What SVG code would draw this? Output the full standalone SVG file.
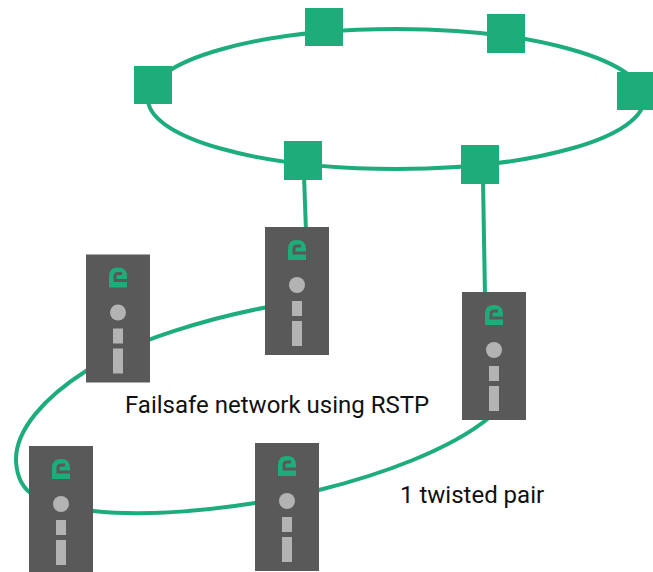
<svg xmlns="http://www.w3.org/2000/svg" xmlns:xlink="http://www.w3.org/1999/xlink" width="653" height="572" viewBox="0 0 653 572">
<style>
.w{fill:none;stroke:#1dad7b;stroke-width:4}
.sw{fill:#1dad7b}
.d{fill:#595959}
.l{fill:#b3b3b3}
.c{fill:none;stroke:#595959;stroke-width:3}
text{font-family:Roboto,"Liberation Sans",sans-serif;font-size:24px;fill:#111}
</style>
<defs>
<g id="dev">
<rect class="d" width="64" height="128"/>
<path class="sw" d="M23 33V22Q23 13 32 13Q41 13 41 22V33Z"/>
<path class="c" d="M41 26H29V22Q29 19 32 19H36"/>
<circle class="l" cx="32" cy="58" r="8"/>
<rect class="l" x="27" y="74" width="10" height="15"/>
<rect class="l" x="27" y="94" width="10" height="25"/>
</g>
</defs>
<g id="connectors">
<ellipse class="w" cx="396" cy="99" rx="248" ry="70"/>
<path class="w" d="M304 175L306 232"/>
<path class="w" d="M483 180L485 296"/>
<path class="w" d="M268 307C215 317 130 340 86 371C45 397 15 430 16 461C17 480 24 490 35 496C60 509 80 510 93 511C150 517 210 510 255 503C275 500 300 495 319 490C380 475 450 450 490 417"/>
</g>
<g id="sw1"><rect class="sw" x="134" y="66" width="38" height="38"/></g>
<g id="sw2"><rect class="sw" x="305" y="8" width="38" height="38"/></g>
<g id="sw3"><rect class="sw" x="487" y="14" width="38" height="39"/></g>
<g id="sw4"><rect class="sw" x="617" y="72" width="36" height="38"/></g>
<g id="sw5"><rect class="sw" x="284" y="141" width="38" height="39"/></g>
<g id="sw6"><rect class="sw" x="461" y="145" width="38" height="39"/></g>
<g id="dev1"><use xlink:href="#dev" x="265" y="227"/></g>
<g id="dev2"><use xlink:href="#dev" x="86" y="254.500"/></g>
<g id="dev3"><use xlink:href="#dev" x="462" y="292"/></g>
<g id="dev4"><use xlink:href="#dev" x="29" y="446"/></g>
<g id="dev5"><use xlink:href="#dev" x="255" y="443"/></g>
<text x="125" y="413">Failsafe network using RSTP</text>
<text x="400" y="503">1 twisted pair</text>
</svg>
